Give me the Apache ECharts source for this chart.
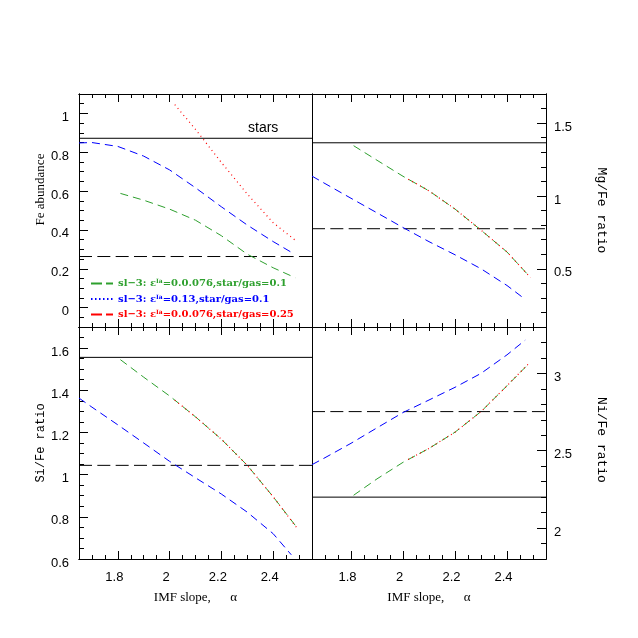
<!DOCTYPE html>
<html><head><meta charset="utf-8">
<script src="https://cdn.jsdelivr.net/npm/echarts@6/dist/echarts.min.js"></script>
<style>html,body{margin:0;padding:0;background:#fff}#c{width:638px;height:638px}</style>
</head><body><div id="c"></div>
<script>
// ---- data ----
const xMin = 1.65, xMax = 2.55;
const xMinorStep = 0.05;
const xTicks = [1.8, 2.0, 2.2, 2.4];

const alphaBlue  = [1.65, 1.7, 1.8, 1.9, 2.0, 2.1, 2.2, 2.3, 2.4, 2.47];
const alphaGreen = [1.81, 1.9, 2.0, 2.1, 2.2, 2.3, 2.4, 2.485];
const alphaRed   = [2.02, 2.1, 2.2, 2.3, 2.4, 2.49];

const feTicks = [0, 0.2, 0.4, 0.6, 0.8, 1];
const feBlue  = [0.848, 0.850, 0.830, 0.780, 0.709, 0.617, 0.519, 0.425, 0.340, 0.285];
const feGreen = [0.588, 0.553, 0.507, 0.450, 0.370, 0.275, 0.205, 0.154];
const feRed   = [1.045, 0.918, 0.747, 0.585, 0.437, 0.342];
const feLevels = [0.872, 0.263];   // [solid "stars", dashed]

const mgTicks = [0.5, 1, 1.5];
const mgBlue  = [1.136, 1.085, 0.984, 0.884, 0.783, 0.686, 0.596, 0.500, 0.385, 0.290];
const mgGreen = [1.345, 1.245, 1.135, 1.035, 0.910, 0.765, 0.615, 0.450];
const mgRed   = [1.115, 1.035, 0.910, 0.765, 0.615, 0.440];
const mgLevels = [1.365, 0.775];

const siTicks = [0.6, 0.8, 1, 1.2, 1.4, 1.6];
const siBlue  = [1.363, 1.320, 1.236, 1.150, 1.063, 0.985, 0.908, 0.822, 0.720, 0.620];
const siGreen = [1.545, 1.462, 1.373, 1.274, 1.168, 1.044, 0.895, 0.760];
const siRed   = [1.353, 1.274, 1.168, 1.044, 0.895, 0.750];
const siLevels = [1.556, 1.044];

const niTicks = [2, 2.5, 3];
const niBlue  = [2.410, 2.455, 2.548, 2.648, 2.747, 2.828, 2.910, 3.000, 3.120, 3.215];
const niGreen = [2.212, 2.318, 2.425, 2.515, 2.620, 2.753, 2.920, 3.065];
const niRed   = [2.443, 2.515, 2.620, 2.753, 2.920, 3.075];
const niLevels = [2.200, 2.753];

const legendPre = 'sl\u22123: \u03b5';
const legendSup = 'Ia';
const legendPost = ['=0.0.076,star/gas=0.1', '=0.13,star/gas=0.1', '=0.0.076,star/gas=0.25'];
const legendNames = legendPost.map(s => legendPre + legendSup + s);
const starsText = 'stars';
const xName = 'IMF slope,      \u03b1';

// ---- styles / layout ----
const GREEN = '#2ea02e', BLUE = '#0000ff', RED = '#ff0000', BLACK = '#000000';
const panels = [
  {grid:{left:79, top:94, width:233, height:233}, side:'left', bottomRow:false,
   yMin:-0.1, yMax:1.1, yTicks:feTicks, yMinor:0.05, name:'Fe abundance',
   nameFont:'Liberation Serif', nameSize:13, nameShift:21, nameGap:31,
   blue:feBlue, green:feGreen, red:feRed, levels:feLevels, stars:true},
  {grid:{left:312, top:94, width:234, height:233}, side:'right', bottomRow:false,
   yMin:0.1, yMax:1.7, yTicks:mgTicks, yMinor:0.1, name:'Mg/Fe ratio',
   nameFont:'Liberation Mono', nameSize:13, nameShift:0, nameGap:49,
   blue:mgBlue, green:mgGreen, red:mgRed, levels:mgLevels},
  {grid:{left:79, top:327, width:233, height:232}, side:'left', bottomRow:true,
   yMin:0.6, yMax:1.7, yTicks:siTicks, yMinor:0.05, name:'Si/Fe ratio',
   nameFont:'Liberation Mono', nameSize:12, nameShift:0, nameGap:32,
   blue:siBlue, green:siGreen, red:siRed, levels:siLevels},
  {grid:{left:312, top:327, width:234, height:232}, side:'right', bottomRow:true,
   yMin:1.8, yMax:3.3, yTicks:niTicks, yMinor:0.1, name:'Ni/Fe ratio',
   nameFont:'Liberation Mono', nameSize:13, nameShift:-3, nameGap:49,
   blue:niBlue, green:niGreen, red:niRed, levels:niLevels}
];

const zip = (xs, ys) => xs.map((x, i) => [x, ys[i]]);

const grid = [], xAxis = [], yAxis = [], series = [];
const tickStyle = {color: BLACK, width: 1};
const lineAxis = {show: true, onZero: false, lineStyle: {color: BLACK, width: 1}};
const labelFont = {color: BLACK, fontSize: 13, fontFamily: 'Liberation Sans'};

panels.forEach((p, i) => {
  grid.push(Object.assign({outerBoundsMode: 'none', containLabel: false}, p.grid));
  const xb = {type:'value', gridIndex:i, min:xMin, max:xMax, splitLine:{show:false},
              axisLine:lineAxis, axisLabel:{show:false}, silent:true};
  xAxis.push(Object.assign({}, xb, {position:'bottom', interval:xMinorStep,
    axisTick:{inside:true, length:4, lineStyle:tickStyle}}));
  xAxis.push(Object.assign({}, xb, {position:'bottom',
    axisTick:{inside:true, length:8, lineStyle:tickStyle, customValues:xTicks},
    axisLabel: p.bottomRow ? Object.assign({show:true, customValues:xTicks, margin:12,
      padding:[0,7,0,0]}, labelFont) : {show:false},
    name: p.bottomRow ? xName : '', nameLocation:'middle', nameGap:32,
    nameTextStyle:{color:BLACK, fontSize:13, fontFamily:'Liberation Serif'}}));
  xAxis.push(Object.assign({}, xb, {position:'top', interval:xMinorStep,
    axisTick:{inside:true, length:4, lineStyle:tickStyle}}));
  xAxis.push(Object.assign({}, xb, {position:'top',
    axisTick:{inside:true, length:8, lineStyle:tickStyle, customValues:xTicks}}));

  const yb = {type:'value', gridIndex:i, min:p.yMin, max:p.yMax, splitLine:{show:false},
              axisLine:lineAxis, axisLabel:{show:false}, silent:true};
  yAxis.push(Object.assign({}, yb, {position:p.side, interval:p.yMinor,
    axisTick:{inside:true, length:5, lineStyle:tickStyle}}));
  const shift = p.nameShift * 2;
  yAxis.push(Object.assign({}, yb, {position:p.side,
    axisTick:{inside:true, length:9, lineStyle:tickStyle, customValues:p.yTicks},
    axisLabel:Object.assign({show:true, customValues:p.yTicks, margin: p.side === 'left' ? 10 : 8,
      verticalAlign:'top', lineHeight:8}, labelFont),
    name:p.name, nameLocation:'middle', nameGap:p.nameGap,
    nameRotate: p.side === 'right' ? -90 : 90,
    nameTextStyle:{color:BLACK, fontSize:p.nameSize, fontFamily:p.nameFont,
      padding: shift > 0 ? [0,0,0,shift] : [0,-shift,0,0]}}));
  yAxis.push(Object.assign({}, yb, {position: p.side === 'left' ? 'right' : 'left',
    axisTick:{show:false}}));

  const common = {type:'line', xAxisIndex:4*i, yAxisIndex:3*i, symbol:'none', showSymbol:false,
                  animation:false, silent:true, smooth:false};
  // reference levels
  const solid = Object.assign({}, common, {name:'levelSolid' + i,
    data: zip([xMin, xMax], [p.levels[0], p.levels[0]]),
    lineStyle:{color:BLACK, width:1, type:'solid'}, itemStyle:{color:BLACK}, z:2});
  if (p.stars) {
    solid.endLabel = {show:true, formatter:starsText, offset:[-72,-10], color:BLACK,
      fontSize:14, fontFamily:'Liberation Sans'};
  }
  series.push(solid);
  series.push(Object.assign({}, common, {name:'levelDashed' + i,
    data: zip([xMin, xMax], [p.levels[1], p.levels[1]]),
    lineStyle:{color:BLACK, width:1, type:[13,5.33]}, itemStyle:{color:BLACK}, z:2}));
  // model curves
  series.push(Object.assign({}, common, {name:legendNames[0], data:zip(alphaGreen, p.green),
    lineStyle:{color:GREEN, width:1, type:[8,5]}, itemStyle:{color:GREEN}, z:3}));
  series.push(Object.assign({}, common, {name:legendNames[2], data:zip(alphaRed, p.red),
    lineStyle:{color:RED, width:1.2, type:[1,3.5]}, itemStyle:{color:RED}, z:4}));
  series.push(Object.assign({}, common, {name:legendNames[1], data:zip(alphaBlue, p.blue),
    lineStyle:{color:BLUE, width:1, type:[8,5]}, itemStyle:{color:BLUE}, z:3}));
});

const noSymbol = {color:'rgba(0,0,0,0)', borderColor:'rgba(0,0,0,0)', borderWidth:0};
const option = {
  animation: false,
  backgroundColor: '#ffffff',
  grid, xAxis, yAxis, series,
  legend: {
    show: true, orient: 'vertical', left: 90, top: 278.5, padding: 0,
    itemWidth: 22, itemHeight: 10, itemGap: 5.5, selectedMode: false,
    data: [
      {name: legendNames[0], textStyle: {color: GREEN}, itemStyle: noSymbol, lineStyle: {type: [11,4], color: GREEN}},
      {name: legendNames[1], textStyle: {color: BLUE}, itemStyle: noSymbol, lineStyle: {type: [1.5,2.5], color: BLUE}},
      {name: legendNames[2], textStyle: {color: RED}, itemStyle: noSymbol, lineStyle: {type: [11,4], color: RED}}
    ],
    formatter: name => {
      const k = legendNames.indexOf(name);
      return '{t|' + legendPre + '}{s|' + legendSup + '}{t|' + legendPost[k] + '}';
    },
    textStyle: {fontFamily: 'DejaVu Serif', fontWeight: 'bold', fontSize: 10,
      rich: {
        t: {fontFamily: 'DejaVu Serif', fontWeight: 'bold', fontSize: 10},
        s: {fontFamily: 'DejaVu Serif', fontWeight: 'bold', fontSize: 6, verticalAlign: 'top'}
      }}
  }
};

const chart = echarts.init(document.getElementById('c'), null, {renderer: 'canvas'});
chart.setOption(option);
</script>
</body></html>
